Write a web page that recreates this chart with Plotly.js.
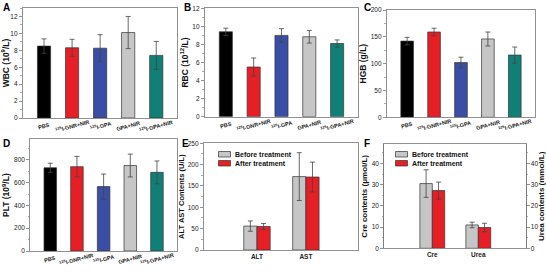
<!DOCTYPE html>
<html><head><meta charset="utf-8">
<script src="https://cdn.plot.ly/plotly-3.0.1.min.js"></script>
<style>html,body{margin:0;padding:0;background:#fff}#c{width:546px;height:272px}</style>
</head><body><div id="c"></div>
<script>
// Categories
const groups = ['PBS', '<sup>125</sup>I-GNR+NIR', '<sup>125</sup>I-GPA', 'GPA+NIR', '<sup>125</sup>I-GPA+NIR'];
const groupColors = ['#000000', '#e61f27', '#3a4ea6', '#c6c6c6', '#108077'];
// Panel A: WBC
const wbc = [8.5, 8.3, 8.25, 10.1, 7.4];
const wbcErr = [0.85, 1.0, 1.6, 1.9, 1.65];
// Panel B: RBC
const rbc = [9.4, 5.5, 9.0, 8.85, 8.1];
const rbcErr = [0.4, 1.0, 0.75, 0.7, 0.4];
// Panel C: HGB
const hgb = [142, 159, 102, 146, 116];
const hgbErr = [7, 7, 10, 13, 15];
// Panel D: PLT
const plt = [730, 740, 565, 750, 690];
const pltErr = [40, 90, 110, 100, 100];
// Panel E: liver function
const liverCats = ['ALT', 'AST'];
const liverBefore = [56, 172];
const liverBeforeErr = [12, 56];
const liverAfter = [55, 171];
const liverAfterErr = [7, 35];
// Panel F: kidney function
const kidneyCats = ['Cre', 'Urea'];
const kidneyBefore = [30.5, 11];
const kidneyBeforeErr = [6.5, 1.3];
const kidneyAfter = [27.2, 9.8];
const kidneyAfterErr = [4, 2];
const seriesNames = ['Before treatment', 'After treatment'];
const seriesColors = ['#c6c6c6', '#e61f27'];

const W = 546, H = 272;
const px = (a, b) => [a / W, b / W];
const py = (top, bot) => [1 - bot / H, 1 - top / H];
const FONT = 'Liberation Sans, Arial, sans-serif';
const errStyle = (arr) => ({type: 'data', array: arr, visible: true, color: '#444', thickness: 0.8, width: 2.5});
const outline = {color: '#333', width: 0.7};

const traces = [];
const catLabels = [];
function groupPanel(vals, errs, ax) {
  traces.push({type: 'bar', x: groups, y: vals, xaxis: 'x' + ax, yaxis: 'y' + ax,
    marker: {color: groupColors, line: outline}, width: 0.47,
    error_y: errStyle(errs), showlegend: false, hoverinfo: 'none'});
  // slanted, centred category labels
  groups.forEach(g => catLabels.push({text: '<b>' + g + '</b>', x: g, xref: 'x' + ax, y: 0, yref: 'y' + ax + ' domain',
    yanchor: 'middle', xanchor: 'center', yshift: -8, textangle: -15, showarrow: false,
    font: {family: FONT, size: 5.5, color: '#222'}}));
}
groupPanel(wbc, wbcErr, '');
groupPanel(rbc, rbcErr, '2');
groupPanel(hgb, hgbErr, '3');
groupPanel(plt, pltErr, '4');

[[liverBefore, liverBeforeErr], [liverAfter, liverAfterErr]].forEach(([v, e], i) => traces.push({
  type: 'bar', name: seriesNames[i], x: liverCats, y: v, xaxis: 'x5', yaxis: 'y5', showlegend: false,
  marker: {color: seriesColors[i], line: outline}, error_y: errStyle(e)}));
[[kidneyBefore, kidneyBeforeErr], [kidneyAfter, kidneyAfterErr]].forEach(([v, e], i) => traces.push({
  type: 'bar', name: seriesNames[i], x: kidneyCats, y: v, xaxis: 'x6', yaxis: 'y6', showlegend: false,
  marker: {color: seriesColors[i], line: outline}, error_y: errStyle(e)}));
// invisible trace to show right axis in F
traces.push({type: 'scatter', x: kidneyCats, y: [null, null], xaxis: 'x6', yaxis: 'y7', showlegend: false, hoverinfo: 'none'});

const tickF = {family: FONT, size: 6.5, color: '#222'};
const titleF = {family: FONT, size: 8.5, color: '#111', weight: 'bold'};
function xax(dom, anchor, range, showLabels, fs) {
  return {domain: dom, anchor: anchor, range: range, showline: true, linecolor: '#777', linewidth: 0.8, mirror: true,
    ticks: '', showticklabels: showLabels, tickfont: {family: FONT, size: fs, color: '#222', weight: 'bold'},
    fixedrange: true, showgrid: false, zeroline: false};
}
function yax(dom, anchor, range, dtick, title, mdt, tsize) {
  return {domain: dom, anchor: anchor, range: range, dtick: dtick, showline: true, linecolor: '#777', linewidth: 0.8, mirror: true,
    ticks: 'outside', ticklen: 3, tickcolor: '#777', tickwidth: 0.8, tickfont: tickF, showgrid: false, zeroline: false,
    minor: {dtick: mdt, ticks: 'outside', ticklen: 1.5, tickcolor: '#777', tickwidth: 0.6},
    title: {text: title, font: Object.assign({}, titleF, tsize ? {size: tsize} : {}), standoff: 2}, fixedrange: true};
}

// legend drawn as paper shapes + annotations
const legendShapes = [], legendAnn = [];
function legendBox(x0, yTop, dy) {
  seriesNames.forEach((n, i) => {
    const y = yTop + i * dy;
    legendShapes.push({type: 'rect', xref: 'paper', yref: 'paper', x0: x0 / W, x1: (x0 + 12) / W, y0: 1 - (y + 5.5) / H, y1: 1 - y / H,
      fillcolor: seriesColors[i], line: {color: '#333', width: 0.7}});
    legendAnn.push({text: '<b>' + n + '</b>', x: (x0 + 14) / W, y: 1 - (y + 2.75) / H, xref: 'paper', yref: 'paper',
      xanchor: 'left', yanchor: 'middle', showarrow: false, font: {family: FONT, size: 7, color: '#111'}});
  });
}
legendBox(218.5, 151.5, 9);
legendBox(395.5, 151.5, 9);

const layout = {
  width: W, height: H, margin: {l: 0, r: 0, t: 0, b: 0}, paper_bgcolor: '#fff', plot_bgcolor: '#fff',
  barmode: 'group', bargap: 0.46, bargroupgap: 0, font: {family: FONT}, showlegend: false,
  xaxis: xax(px(22.7, 177), 'y', [-0.76, 4.74], false, 5.5),
  yaxis: yax(py(8, 118), 'x', [0, 13], 2, 'WBC (10<sup>9</sup>/L)', 1),
  xaxis2: xax(px(204.7, 357.7), 'y2', [-0.76, 4.74], false, 5.5),
  yaxis2: yax(py(8.3, 116.7), 'x2', [0, 12], 2, 'RBC (10<sup>12</sup>/L)', 1),
  xaxis3: xax(px(386.7, 534.7), 'y3', [-0.76, 4.74], false, 5.5),
  yaxis3: yax(py(10, 117.3), 'x3', [0, 200], 50, 'HGB (g/L)', 25),
  xaxis4: xax(px(30, 176.7), 'y4', [-0.76, 4.74], false, 5.5),
  yaxis4: yax(py(139.3, 251), 'x4', [0, 980], 200, 'PLT (10<sup>9</sup>/L)', 100),
  xaxis5: xax(px(203.7, 357.7), 'y5', [-1.09, 2.06], true, 6.5),
  yaxis5: yax(py(143.3, 250), 'x5', [0, 250], 50, 'ALT AST Contents (U/L)', 25, 7.5),
  xaxis6: xax(px(384, 525.7), 'y6', [-1.05, 2.03], true, 6.5),
  yaxis6: yax(py(144.3, 248.3), 'x6', [0, 49], 10, 'Cre contents (μmol/L)', 5, 8),
  yaxis7: Object.assign(yax(py(144.3, 248.3), 'x6', [0, 49], 10, 'Urea contents (mmol/L)', 5, 8), {overlaying: 'y6', side: 'right'}),
  shapes: legendShapes,
  annotations: [
    ['A', 1, 0], ['B', 182, 0], ['C', 362, 0], ['D', 1, 136], ['E', 180, 136], ['F', 362, 136]
  ].map(([t, x, y]) => ({text: '<b>' + t + '</b>', x: x / W, y: 1 - y / H, xref: 'paper', yref: 'paper', xanchor: 'left', yanchor: 'top',
    showarrow: false, font: {family: FONT, size: 10, color: '#000'}})).concat(legendAnn, catLabels)
};
Plotly.newPlot('c', traces, layout, {staticPlot: true, displayModeBar: false});
</script></body></html>
